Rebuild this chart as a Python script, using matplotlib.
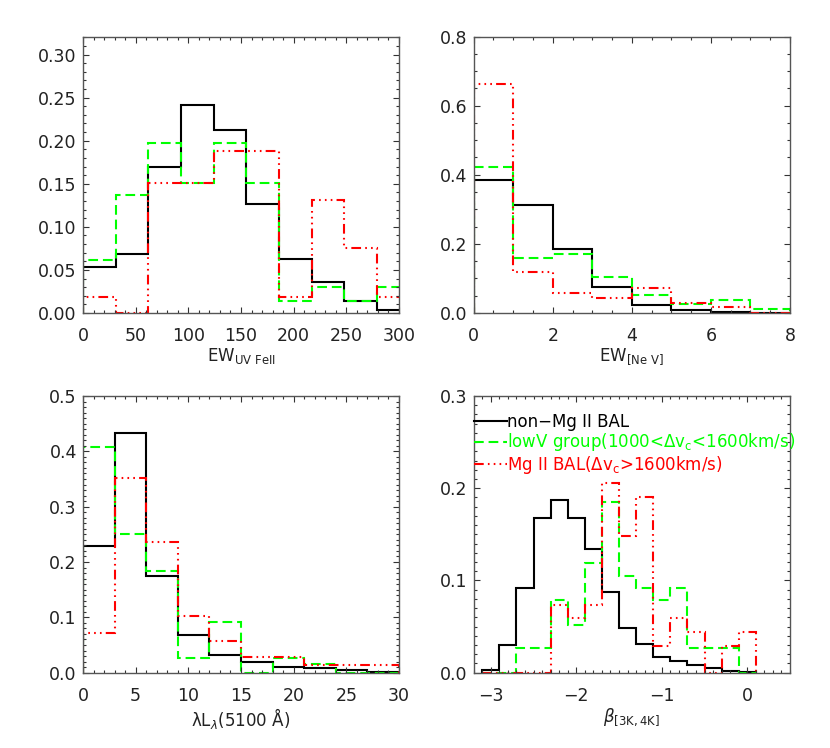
import matplotlib
matplotlib.use('Agg')
import matplotlib.pyplot as plt
from matplotlib.ticker import MultipleLocator, FormatStrFormatter

plt.rcParams['font.family'] = ['DejaVu Sans']
plt.rcParams['mathtext.fontset'] = 'dejavusans'
plt.rcParams['lines.scale_dashes'] = False

# ---------------- data ----------------
series_labels = ["non\u2212Mg II BAL",
                 "lowV group(1000<\u0394v$_{\\rm c}$<1600km/s)",
                 "Mg II BAL(\u0394v$_{\\rm c}$>1600km/s)"]

# Panel 1: EW UV FeII
uvfe_edges = [0, 31, 62, 93, 124, 155, 186, 217, 248, 279, 310]
uvfe_non   = [0.053, 0.068, 0.170, 0.242, 0.213, 0.127, 0.063, 0.036, 0.014, 0.004]
uvfe_lowv  = [0.061, 0.137, 0.197, 0.151, 0.197, 0.151, 0.014, 0.030, 0.014, 0.030]
uvfe_bal   = [0.019, 0.000, 0.151, 0.151, 0.188, 0.188, 0.018, 0.131, 0.075, 0.019]

# Panel 2: EW [Ne V]
nev_edges = [0, 1, 2, 3, 4, 5, 6, 7, 8]
nev_non   = [0.386, 0.313, 0.184, 0.074, 0.024, 0.009, 0.003, 0.000]
nev_lowv  = [0.423, 0.158, 0.171, 0.104, 0.051, 0.026, 0.039, 0.013]
nev_bal   = [0.664, 0.118, 0.058, 0.044, 0.073, 0.029, 0.016, 0.000]

# Panel 3: lambda L_lambda (5100 A)
l5100_edges = [0, 3, 6, 9, 12, 15, 18, 21, 24, 27, 30]
l5100_non   = [0.229, 0.433, 0.175, 0.069, 0.032, 0.019, 0.011, 0.009, 0.005, 0.002]
l5100_lowv  = [0.407, 0.250, 0.184, 0.026, 0.091, 0.000, 0.026, 0.015, 0.000, 0.000]
l5100_bal   = [0.072, 0.352, 0.236, 0.102, 0.058, 0.029, 0.029, 0.014, 0.014, 0.014]

# Panel 4: beta [3K,4K]
beta_edges = [-3.1, -2.9, -2.7, -2.5, -2.3, -2.1, -1.9, -1.7, -1.5,
              -1.3, -1.1, -0.9, -0.7, -0.5, -0.3, -0.1, 0.1]
beta_non   = [0.003, 0.030, 0.092, 0.168, 0.187, 0.168, 0.134, 0.087,
              0.049, 0.031, 0.017, 0.013, 0.008, 0.005, 0.002, 0.001]
beta_lowv  = [0.000, 0.000, 0.027, 0.027, 0.079, 0.052, 0.119, 0.185,
              0.105, 0.092, 0.079, 0.092, 0.027, 0.027, 0.027, 0.000]
beta_bal   = [0.000, 0.000, 0.000, 0.000, 0.073, 0.059, 0.073, 0.206,
              0.148, 0.191, 0.029, 0.059, 0.044, 0.000, 0.029, 0.044]

# ---------------- styles ----------------
styles = [
    dict(color='black', lw=1.5, linestyle='-'),
    dict(color='#00ff00', lw=1.5, linestyle=(0, (7.0, 3.5))),
    dict(color='#ff0000', lw=1.5, linestyle=(0, (7.0, 3.0, 1.2, 3.0, 1.2, 3.0, 1.2, 3.0))),
]

W, H = 830, 748
fig = plt.figure(figsize=(W / 100, H / 100), dpi=100)

def rect(l, r, t, b):
    return [l / W, 1 - b / H, (r - l) / W, (b - t) / H]

axes_rects = [rect(83, 399, 36.5, 313), rect(473.7, 790, 36.5, 313),
              rect(83, 399, 396, 672.7), rect(473.7, 790, 396, 672.7)]

panels = [
    dict(edges=uvfe_edges, vals=[uvfe_non, uvfe_lowv, uvfe_bal],
         xlim=(0, 300), ylim=(0, 0.321), xmaj=50, xmin=10, ymaj=0.05, ymin=0.01,
         yfmt='%.2f', xlabel=r'EW$_{\rm UV\ FeII}$'),
    dict(edges=nev_edges, vals=[nev_non, nev_lowv, nev_bal],
         xlim=(0, 8), ylim=(0, 0.8), xmaj=2, xmin=0.5, ymaj=0.2, ymin=0.05,
         yfmt='%.1f', xlabel=r'EW$_{\rm [Ne\ V]}$'),
    dict(edges=l5100_edges, vals=[l5100_non, l5100_lowv, l5100_bal],
         xlim=(0, 30), ylim=(0, 0.5), xmaj=5, xmin=1, ymaj=0.1, ymin=0.01,
         yfmt='%.1f', xlabel='\u03bbL$_{\\lambda}$(5100 \u00c5)'),
    dict(edges=beta_edges, vals=[beta_non, beta_lowv, beta_bal],
         xlim=(-3.2, 0.5), ylim=(0, 0.3), xmaj=1, xmin=0.1, ymaj=0.1, ymin=0.01,
         yfmt='%.1f', xlabel=r'$\beta_{\rm [3K,4K]}$'),
]

for rc, p in zip(axes_rects, panels):
    ax = fig.add_axes(rc)
    for vals, st, lab in zip(p['vals'], styles, series_labels):
        ax.stairs(vals, p['edges'], baseline=0, fill=False, label=lab, **st)
    ax.set_xlim(*p['xlim'])
    ax.set_ylim(*p['ylim'])
    ax.xaxis.set_major_locator(MultipleLocator(p['xmaj']))
    ax.xaxis.set_minor_locator(MultipleLocator(p['xmin']))
    ax.yaxis.set_major_locator(MultipleLocator(p['ymaj']))
    ax.yaxis.set_minor_locator(MultipleLocator(p['ymin']))
    ax.yaxis.set_major_formatter(FormatStrFormatter(p['yfmt']))
    ax.tick_params(which='both', direction='in', top=True, right=True,
                   colors='#333333', labelcolor='#222222', labelsize=12.5)
    ax.tick_params(which='major', length=4.5, width=0.8)
    ax.tick_params(which='minor', length=2.4, width=0.8)
    ax.tick_params(axis='x', pad=10)
    ax.tick_params(axis='y', pad=4.5)
    for s in ax.spines.values():
        s.set_color('#555555')
        s.set_linewidth(1.0)
    ax.set_xlabel(p['xlabel'], fontsize=12, labelpad=1, color='#222222')
    last_ax = ax

leg = last_ax.legend(handles=[plt.Line2D([], [], **st) for st in styles],
                     labels=series_labels, loc='upper left',
                     bbox_to_anchor=(0.0, 0.94), frameon=False, fontsize=12,
                     handlelength=2.0, handletextpad=0.0, borderpad=0,
                     borderaxespad=0, labelspacing=0.05)
for t, st in zip(leg.get_texts(), styles):
    t.set_color(st['color'])

fig.savefig('out.png', dpi=100)
